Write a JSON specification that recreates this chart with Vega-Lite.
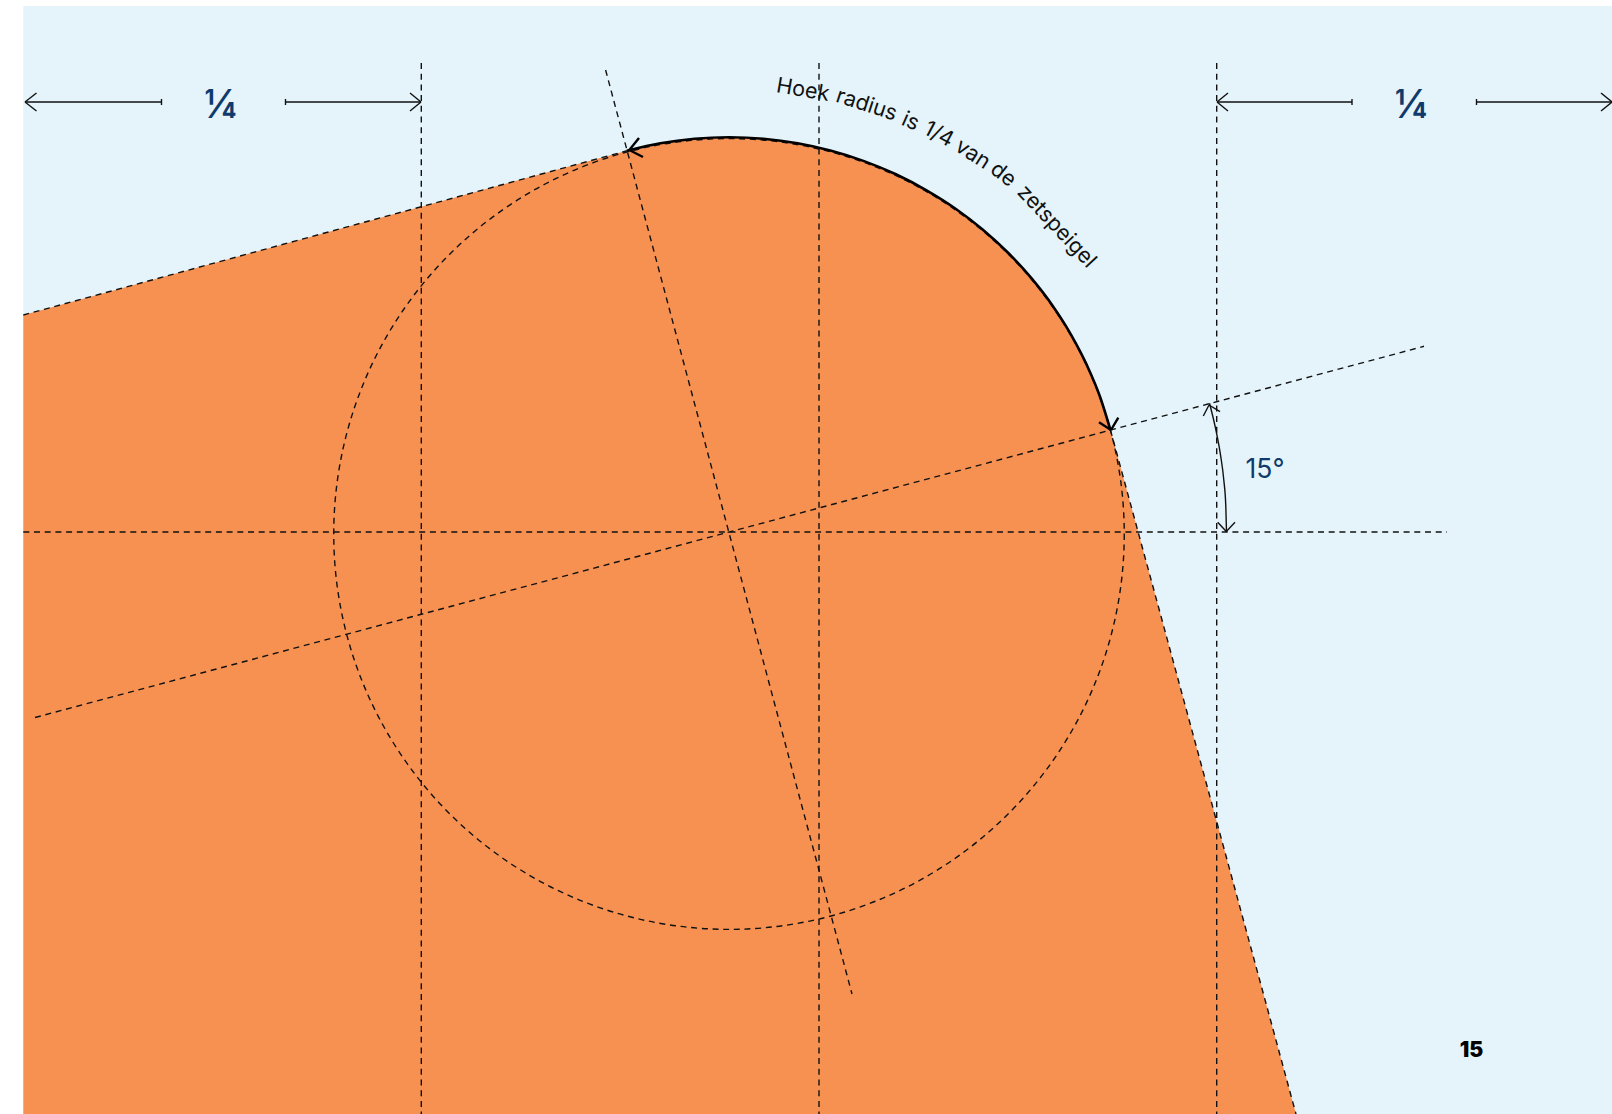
{
"$schema":"https://vega.github.io/schema/vega-lite/v6.json",
"width":1612,"height":1114,"padding":0,
"autosize":{"type":"none"},
"background":"#ffffff",
"config":{"view":{"stroke":null}},
"datasets":{
"panel":[{"x":23.3,"x2":1612,"y":6,"y2":1114}],
"shape":[
{"x":23.3,"y":315,"y2":1114},{"x":626.8,"y":150.8,"y2":1114},{"x":660.4,"y":143.3,"y2":1114},{"x":694.6,"y":138.8,"y2":1114},{"x":729,"y":137.3,"y2":1114},{"x":763.4,"y":138.8,"y2":1114},{"x":797.6,"y":143.3,"y2":1114},{"x":831.2,"y":150.8,"y2":1114},{"x":864.1,"y":161.1,"y2":1114},{"x":895.9,"y":174.3,"y2":1114},{"x":926.5,"y":190.3,"y2":1114},{"x":955.6,"y":208.7,"y2":1114},{"x":982.9,"y":229.7,"y2":1114},{"x":1008.3,"y":253,"y2":1114},{"x":1031.6,"y":278.4,"y2":1114},{"x":1052.6,"y":305.7,"y2":1114},{"x":1071.1,"y":334.8,"y2":1114},{"x":1087,"y":365.4,"y2":1114},{"x":1100.2,"y":397.2,"y2":1114},{"x":1110.5,"y":430.1,"y2":1114},{"x":1296,"y":1114,"y2":1114}],
"guides":[
{"x":421.3,"y":63,"x2":421.3,"y2":1114},
{"x":819,"y":63,"x2":819,"y2":1114},
{"x":1216.7,"y":63,"x2":1216.7,"y2":1114},
{"x":23.3,"y":532,"x2":1447,"y2":532},
{"x":35,"y":717.5,"x2":1424,"y2":346.3},
{"x":605.6,"y":70,"x2":852,"y2":994},
{"x":23.3,"y":315,"x2":626.8,"y2":150.8},
{"x":1110.5,"y":430.1,"x2":1296,"y2":1114}],
"centre":[{"x":729,"y":534}],
"thin":[
{"x":25,"y":102,"x2":161.5,"y2":102},{"x":161.5,"y":99,"x2":161.5,"y2":105},{"x":25,"y":102,"x2":36.5,"y2":93},{"x":25,"y":102,"x2":36.5,"y2":111},
{"x":285.5,"y":102,"x2":421,"y2":102},{"x":285.5,"y":99,"x2":285.5,"y2":105},{"x":421,"y":102,"x2":410,"y2":93},{"x":421,"y":102,"x2":410,"y2":111},
{"x":1217,"y":102,"x2":1352,"y2":102},{"x":1352,"y":99,"x2":1352,"y2":105},{"x":1217,"y":102,"x2":1228,"y2":93},{"x":1217,"y":102,"x2":1228,"y2":111},
{"x":1476.5,"y":102,"x2":1612,"y2":102},{"x":1476.5,"y":99,"x2":1476.5,"y2":105},{"x":1612,"y":102,"x2":1601,"y2":93},{"x":1612,"y":102,"x2":1601,"y2":111},
{"x":1209,"y":405,"x2":1203.3,"y2":416},{"x":1209,"y":405,"x2":1220,"y2":411.7},
{"x":1226.3,"y":531.5,"x2":1217.7,"y2":522.3},{"x":1226.3,"y":531.5,"x2":1235,"y2":522.3}],
"angleArc":[{"x":1226.5,"y":532},{"x":1225.8,"y":506},{"x":1223.8,"y":480},{"x":1220.4,"y":454.2},{"x":1215.6,"y":428.6},{"x":1209.5,"y":403.2}],
"radiusArc":[{"x":626.8,"y":150.8},{"x":660.4,"y":143.3},{"x":694.6,"y":138.8},{"x":729,"y":137.3},{"x":763.4,"y":138.8},{"x":797.6,"y":143.3},{"x":831.2,"y":150.8},{"x":864.1,"y":161.1},{"x":895.9,"y":174.3},{"x":926.5,"y":190.3},{"x":955.6,"y":208.7},{"x":982.9,"y":229.7},{"x":1008.3,"y":253},{"x":1031.6,"y":278.4},{"x":1052.6,"y":305.7},{"x":1071.1,"y":334.8},{"x":1087,"y":365.4},{"x":1100.2,"y":397.2},{"x":1110.5,"y":430.1}],
"heads":[
{"x":629.3,"y":150,"x2":639,"y2":138},{"x":629.3,"y":150,"x2":643,"y2":157},
{"x":1111,"y":430,"x2":1099,"y2":422.3},{"x":1111,"y":430,"x2":1118.3,"y2":417.7}],
"curved":[
{"t":"Hoek","x":801.8,"y":96.5,"a":9.6},
{"t":"radius","x":864.5,"y":111.1,"a":17.9},
{"t":"is","x":907.8,"y":127.5,"a":23.9},
{"t":"1/4","x":935.7,"y":140.2,"a":28},
{"t":"van","x":969.2,"y":159.7,"a":33},
{"t":"de","x":999.2,"y":179.7,"a":37.9},
{"t":"zetspeigel","x":1052,"y":231,"a":46.8}],
"fractions":[{"t":"¼","x":220.5,"y":118},{"t":"¼","x":1411,"y":118}],
"degree":[{"t":"15°","x":1245.5,"y":477.5}],
"page":[{"t":"15","x":1471.5,"y":1057}]
},
"encoding":{
"x":{"field":"x","type":"quantitative","axis":null,"scale":{"domain":[0,1612],"nice":false,"zero":false}},
"y":{"field":"y","type":"quantitative","axis":null,"scale":{"domain":[1114,0],"nice":false,"zero":false}}
},
"layer":[
{"data":{"name":"panel"},"mark":{"type":"rect","fill":"#e4f4fa"},"encoding":{"x2":{"field":"x2"},"y2":{"field":"y2"}}},
{"data":{"name":"shape"},"mark":{"type":"area","fill":"#f69152"},"encoding":{"y2":{"field":"y2"}}},
{"data":{"name":"guides"},"mark":{"type":"rule","stroke":"#111111","strokeWidth":1.4,"strokeDash":[6,4.7]},"encoding":{"x2":{"field":"x2"},"y2":{"field":"y2"}}},
{"data":{"name":"centre"},"mark":{"type":"point","shape":"circle","filled":false,"size":624890,"stroke":"#111111","strokeWidth":1.4,"strokeDash":[6,4.7],"opacity":1}},
{"data":{"name":"thin"},"mark":{"type":"rule","stroke":"#111111","strokeWidth":1.4},"encoding":{"x2":{"field":"x2"},"y2":{"field":"y2"}}},
{"data":{"name":"angleArc"},"mark":{"type":"line","stroke":"#111111","strokeWidth":1.4,"interpolate":"monotone"},"encoding":{"detail":{"value":"angle"}}},
{"data":{"name":"radiusArc"},"mark":{"type":"line","stroke":"#000000","strokeWidth":2.6,"interpolate":"monotone"},"encoding":{"detail":{"value":"radius"}}},
{"data":{"name":"heads"},"mark":{"type":"rule","stroke":"#000000","strokeWidth":2.4},"encoding":{"x2":{"field":"x2"},"y2":{"field":"y2"}}},
{"data":{"name":"curved"},"mark":{"type":"text","font":"Inter","fontSize":21.5,"fill":"#111111","align":"center","baseline":"alphabetic"},"encoding":{"text":{"field":"t"},"angle":{"field":"a","type":"quantitative","scale":null}}},
{"data":{"name":"fractions"},"mark":{"type":"text","font":"Inter","fontSize":40,"fontWeight":500,"fill":"#0f3a6b","align":"center","baseline":"alphabetic"},"encoding":{"text":{"field":"t"}}},
{"data":{"name":"degree"},"mark":{"type":"text","font":"Inter","fontSize":26.5,"fill":"#0f3a6b","align":"left","baseline":"alphabetic"},"encoding":{"text":{"field":"t"}}},
{"data":{"name":"page"},"mark":{"type":"text","font":"Inter","fontSize":21,"fontWeight":900,"fill":"#000000","align":"center","baseline":"alphabetic"},"encoding":{"text":{"field":"t"}}}
]
}
